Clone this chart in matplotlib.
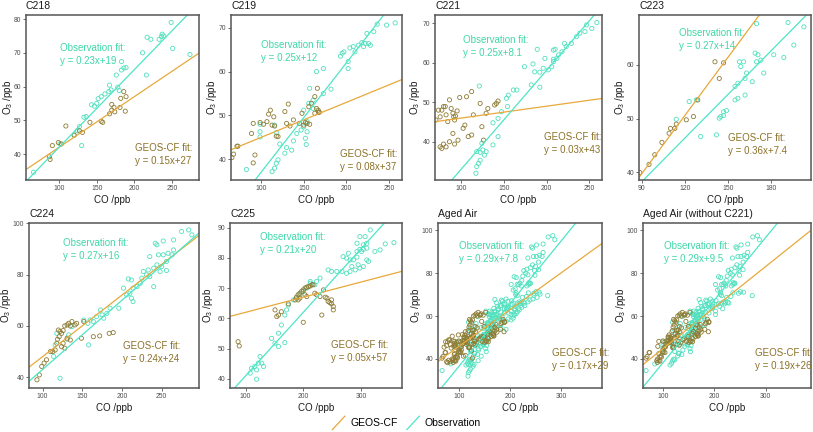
import numpy as np
import matplotlib
matplotlib.use("Agg")
import matplotlib.pyplot as plt
from matplotlib.lines import Line2D
from matplotlib.legend_handler import HandlerBase
from matplotlib.ticker import MultipleLocator

# ---- data: (CO ppb, O3 ppb) ----
c218_obs = np.array([
    (66, 34.6), (101, 43), (120, 45.6), (124, 46.9), (127, 48.1), (130, 42.5), (133, 50.9),
    (136, 51.1), (143, 54.6), (147, 54.2), (150, 55), (152, 56.4), (156, 57), (161, 57.8),
    (166, 58.5), (167, 60.4), (169, 59), (176, 63.4), (178, 59.8), (180, 58.8), (183, 67.4),
    (183, 64.9), (186, 65.5), (189, 65.6), (211, 70), (216, 63.4), (217, 74.6), (222, 74),
    (233, 74), (236, 74.8), (237, 75.5), (239, 75), (249, 79), (251, 71.3), (274, 69.5)])
c218_geos = np.array([
    (87, 39.2), (88, 38.4), (91, 42.5), (99, 43.4), (103, 43), (109, 48.3), (120, 45.6),
    (127, 46.9), (131, 46.4), (141, 49.4), (156, 49.7), (158, 49.4), (167, 51.9), (170, 53),
    (170, 54.7), (173, 53.8), (174, 52.5), (181, 53.8), (182, 56.5), (186, 58.5), (189, 57),
    (188, 52.7)])

c219_obs = np.array([
    (247, 70.6), (257, 71.1), (236, 70.8), (232, 69.1), (224, 68.7), (222, 66.4), (226, 66.4),
    (228, 66), (218, 66.6), (220, 65.7), (214, 66), (208, 65.7), (210, 64.5), (204, 65.4),
    (197, 64.5), (193, 63.5), (195, 64.2), (202, 62.3), (202, 60.7), (182, 56), (173, 60.7),
    (165, 60), (173, 55), (157, 56.2), (161, 53.5), (156, 52.8), (161, 51.6), (150, 51.2),
    (154, 48.6), (150, 47.4), (147, 46.7), (154, 46.3), (152, 44.8), (153, 43.4), (142, 45.9),
    (138, 44.2), (130, 42.7), (128, 41.4), (136, 42.1), (122, 43.5), (120, 39.9), (118, 39.1),
    (113, 37.2), (116, 38), (83, 37.7), (99, 48), (99, 45.1), (99, 46.3), (118, 46.1),
    (116, 47.8)])
c219_geos = np.array([
    (66, 40.4), (68, 41.2), (72, 43), (73, 43), (89, 45.9), (91, 48.2), (93, 41), (91, 39.2),
    (99, 48.4), (103, 48), (107, 48.6), (109, 50.3), (111, 51.2), (113, 47.8), (116, 47.6),
    (118, 45.3), (120, 45.2), (115, 49.7), (128, 50.9), (132, 52.6), (130, 48.2), (134, 47.6),
    (138, 49), (145, 48.2), (150, 47.8), (152, 48.4), (154, 48.2), (157, 48), (156, 52),
    (159, 52.8), (165, 51.6), (167, 51.2), (168, 50.8), (166, 56.2), (163, 54.3), (163, 50.5),
    (168, 50.7), (148, 50.5)])

c221_obs = np.array([
    (247, 69.6), (259, 70.2), (253, 68.7), (245, 67.9), (239, 67.5), (235, 66.6), (229, 64.9),
    (223, 64.1), (221, 64.9), (218, 62.8), (214, 62), (212, 61.1), (208, 60.3), (206, 59),
    (202, 58.2), (208, 60.9), (196, 58.6), (192, 57.6), (186, 57.7), (198, 61.1), (210, 63.4),
    (208, 63.2), (189, 63.4), (184, 59.7), (174, 59), (192, 53.8), (182, 54.4), (165, 53.1),
    (161, 53.1), (155, 51.8), (153, 51), (154, 48.9), (147, 47.6), (143, 45.9), (137, 44.8),
    (143, 41.3), (137, 39.2), (124, 39.6), (125, 37.9), (122, 37.3), (127, 36.6), (129, 37.5),
    (120, 34.5), (118, 33.7), (117, 32), (122, 35.3), (121, 54.1), (118, 37.5)])
c221_geos = np.array([
    (70, 45.5), (73, 48), (75, 46.3), (77, 48), (79, 48.9), (81, 48.9), (82, 46.8), (84, 45.1),
    (86, 50.6), (88, 48.4), (90, 47.2), (91, 46.3), (92, 45.5), (75, 38.7), (77, 38.3),
    (79, 39.4), (82, 38.7), (86, 40), (90, 42.1), (92, 39.4), (96, 40.4), (102, 43.4),
    (104, 44.2), (108, 41.3), (112, 41.7), (114, 46.8), (112, 52.7), (106, 51.4), (122, 49.7),
    (124, 43.8), (129, 47.2), (131, 48.4), (139, 49.3), (143, 50.3), (141, 49.7), (126, 40.4),
    (95, 47.8), (93, 46.5), (98, 51.2)])

c223_obs = np.array([
    (192, 67.9), (203, 67.1), (170, 67.7), (169, 62.2), (171, 61.9), (173, 60.9), (170, 60.6),
    (182, 61.9), (189, 61.4), (196, 63.7), (175, 58.5), (162, 57.5), (161, 60.6), (158, 60.6),
    (159, 59.7), (157, 56.6), (155, 56), (163, 58.5), (167, 56.9), (162, 54.4), (157, 53.8),
    (155, 53.5), (149, 51.5), (147, 51.3), (144, 50.1), (145, 50.4), (147, 50.6), (131, 46.7),
    (142, 47), (123, 53.2), (128, 53.5), (114, 49.9)])
c223_geos = np.array([
    (88.5, 40), (95, 41.5), (99, 43.3), (104, 45.6), (109, 47.3), (110, 48.2), (113, 48.2),
    (114, 49), (121, 49.8), (126, 50.4), (129, 53.5), (141, 60.6), (147, 60.4), (144, 57.5)])

c224_obs = np.array([
    (284, 97.4), (275, 96.8), (288, 95.5), (252, 93.1), (242, 92.2), (244, 91.6), (265, 93.5),
    (246, 87.7), (235, 87), (252, 87.7), (258, 88.3), (263, 87.7), (265, 89.6), (256, 85.1),
    (250, 83.1), (244, 83.8), (240, 82.5), (248, 81.2), (256, 81.6), (233, 81.8), (231, 79.9),
    (227, 81.2), (235, 79.2), (240, 75.3), (225, 78.6), (223, 76.6), (219, 75.3), (214, 74.7),
    (212, 77.9), (208, 78.3), (210, 72.7), (212, 70.8), (214, 69.5), (206, 72.1), (202, 74.7),
    (196, 66.9), (185, 66.9), (181, 64.9), (177, 63), (173, 66.2), (168, 63.6), (164, 61.7),
    (160, 62.3), (157, 61), (152, 62.3), (158, 52.6), (122, 39.6), (131, 54.8), (133, 56.5),
    (137, 59.7), (118, 57.1), (116, 52.6), (114, 48.1), (175, 64.3)])
c224_geos = np.array([
    (93, 39), (96, 40.9), (99, 44.2), (102, 45.5), (105, 46.8), (110, 50), (113, 50),
    (116, 50.6), (119, 54.8), (121, 55.8), (122, 57.8), (124, 57.1), (126, 58.2), (128, 60),
    (131, 60.4), (133, 61), (135, 60), (137, 61.7), (131, 55.2), (126, 53.2), (124, 51.9),
    (128, 51.3), (135, 54.5), (141, 60.4), (143, 61), (149, 55.2), (152, 61.7), (164, 55.8),
    (172, 56.1), (184, 57.1), (189, 57.4), (120, 58.4), (118, 53.2)])

c225_obs = np.array([
    (316, 89.2), (307, 87), (298, 87), (293, 84.8), (304, 84.3), (310, 84.8), (298, 82.8),
    (301, 82.1), (304, 82.8), (310, 83.2), (293, 82.1), (278, 81.5), (269, 80.4), (275, 79.9),
    (281, 79.3), (287, 79.3), (293, 80.2), (333, 82.6), (342, 84.6), (357, 85), (324, 82.1),
    (295, 77.7), (298, 76.6), (304, 77.1), (313, 78.8), (310, 79.3), (290, 76), (281, 75.5),
    (275, 74.9), (267, 75.5), (258, 75.5), (249, 75.5), (243, 76), (284, 77.1), (229, 73.3),
    (223, 72.2), (220, 71.1), (212, 71.6), (206, 70), (200, 68.9), (194, 67.8), (188, 66.7),
    (183, 66.1), (174, 64.4), (171, 62.8), (168, 61.1), (162, 57.8), (157, 55.1), (151, 51.8),
    (145, 53.4), (157, 50.7), (168, 52), (125, 47.4), (122, 45.2), (128, 45.2), (131, 44.1),
    (116, 44.1), (119, 43), (110, 43.5), (108, 41.9), (119, 39.9), (212, 72.2)])
c225_geos = np.array([
    (87, 52.3), (89, 50.9), (151, 62.8), (154, 60.6), (157, 61.1), (162, 62.2), (174, 64.8),
    (186, 66.1), (188, 67), (191, 67.8), (194, 68.3), (197, 68.9), (200, 69.4), (203, 70),
    (206, 70.3), (209, 70.5), (212, 70.7), (215, 71.1), (217, 71.1), (203, 67.8), (206, 67.2),
    (194, 66.7), (191, 66.1), (220, 68.3), (223, 67.8), (229, 67.2), (235, 69.4), (238, 67),
    (241, 66.7), (232, 61.1), (200, 58.7), (246, 65.2), (249, 64.8), (252, 63.9), (252, 62.8),
    (249, 66.1), (243, 65.6)])

# aged air panels pool the individual flights
aged_obs = np.vstack([c218_obs, c219_obs, c221_obs, c223_obs, c224_obs])
aged_geos = np.vstack([c218_geos, c219_geos, c221_geos, c223_geos, c224_geos])
aged_no221_obs = np.vstack([c218_obs, c219_obs, c223_obs, c224_obs])
aged_no221_geos = np.vstack([c218_geos, c219_geos, c223_geos, c224_geos])

titles = ["C218", "C219", "C221", "C223", "C224", "C225", "Aged Air", "Aged Air (without C221)"]
obs_sets = [c218_obs, c219_obs, c221_obs, c223_obs, c224_obs, c225_obs, aged_obs, aged_no221_obs]
geos_sets = [c218_geos, c219_geos, c221_geos, c223_geos, c224_geos, c225_geos, aged_geos,
             aged_no221_geos]
obs_slope = [0.23, 0.25, 0.25, 0.27, 0.27, 0.21, 0.29, 0.29]
obs_icpt = [19, 12, 8.1, 14, 16, 20, 7.8, 9.5]
geos_slope = [0.15, 0.08, 0.03, 0.36, 0.24, 0.05, 0.17, 0.19]
geos_icpt = [27, 37, 43, 7.4, 24, 57, 29, 26]

# ---- layout (pixels / axis limits / label positions) ----
W, H = 813, 432
layout = [
    # left, top, width, xlim, ylim, xstep, ystep, obs text, geos text, ylabel centre offset px
    (26, 15, 173, (56, 286), (32.3, 81.2), 50, 10, (0.197, 0.80), (0.63, 0.196), -18),
    (231, 15, 171, (65, 265), (35.3, 72.9), 50, 10, (0.175, 0.82), (0.637, 0.158), -19),
    (435, 15, 167, (69, 265), (30.3, 72.1), 50, 10, (0.17, 0.847), (0.65, 0.262), -20),
    (639, 15, 172, (88, 208), (38.6, 69.3), 30, 10, (0.23, 0.889), (0.52, 0.253), -19),
    (29, 223, 170, (83, 297), (35.8, 100.1), 50, 20, (0.20, 0.877), (0.55, 0.256), -23),
    (230, 223, 172, (73, 371), (37, 91.5), 100, 10, (0.174, 0.913), (0.59, 0.26), -22),
    (438, 223, 164, (58, 381), (26.5, 103.3), 100, 20, (0.13, 0.862), (0.693, 0.21), -22),
    (643, 223, 168, (60, 389), (26.5, 103.3), 100, 20, (0.125, 0.862), (0.667, 0.21), -22),
]
PANEL_H = 165
LINE_GAP = 13 / PANEL_H

GEOS_LINE = "#E7A93B"
GEOS_PT = "#8E7C35"
GEOS_TXT = "#8C7128"
OBS_LINE = "#4DE6C6"
OBS_PT = "#52E0BE"
OBS_TXT = "#3ED8A8"
FRAME = "#555555"

plt.rcParams["font.family"] = ["Liberation Sans", "DejaVu Sans"]
plt.rcParams["mathtext.fontset"] = "custom"
plt.rcParams["mathtext.rm"] = "Liberation Sans"
plt.rcParams["mathtext.it"] = "Liberation Sans:italic"


class DiagHandler(HandlerBase):
    # ggplot draws abline keys as a diagonal stroke
    def create_artists(self, legend, orig, xd, yd, w, h, fontsize, trans):
        ln = Line2D([-xd, -xd + w], [-yd - 1, -yd + h + 1], color=orig.get_color(),
                    lw=orig.get_linewidth())
        ln.set_transform(trans)
        return [ln]


fig = plt.figure(figsize=(W / 100, H / 100), dpi=100)

for i, name in enumerate(titles):
    left, top, width, xlim, ylim, xs, ys, otxt, gtxt, yoff = layout[i]
    ax = fig.add_axes([left / W, 1 - (top + PANEL_H) / H, width / W, PANEL_H / H])
    obs, geos = obs_sets[i], geos_sets[i]
    ax.scatter(obs[:, 0], obs[:, 1], s=9, facecolors="none", edgecolors=OBS_PT, linewidths=0.6)
    ax.scatter(geos[:, 0], geos[:, 1], s=9, facecolors="none", edgecolors=GEOS_PT, linewidths=0.6)
    ax.axline((0, geos_icpt[i]), slope=geos_slope[i], color=GEOS_LINE, lw=0.9)
    ax.axline((0, obs_icpt[i]), slope=obs_slope[i], color=OBS_LINE, lw=0.9)
    ax.set_xlim(*xlim); ax.set_ylim(*ylim)
    ax.xaxis.set_major_locator(MultipleLocator(xs))
    ax.yaxis.set_major_locator(MultipleLocator(ys))
    for sp in ax.spines.values():
        sp.set_color(FRAME); sp.set_linewidth(1.1)
    ax.tick_params(length=2, width=0.6, color=FRAME, labelcolor="#4D4D4D", labelsize=4.9, pad=1.5)
    ax.set_title(name, loc="left", fontsize=7.5, pad=4, color="#1a1a1a")
    ax.set_xlabel("CO /ppb", fontsize=7, labelpad=2, color="#1a1a1a")
    ax.set_ylabel("O$_3$ /ppb", fontsize=7, color="#1a1a1a", va="center")
    ax.yaxis.set_label_coords(yoff / width, 0.5)

    ax.text(otxt[0], otxt[1], "Observation fit:", transform=ax.transAxes, color=OBS_TXT,
            fontsize=7, va="center", ha="left")
    ax.text(otxt[0], otxt[1] - LINE_GAP, f"y = {obs_slope[i]:g}x+{obs_icpt[i]:g}",
            transform=ax.transAxes, color=OBS_TXT, fontsize=7, va="center", ha="left")
    ax.text(gtxt[0], gtxt[1], "GEOS-CF fit:", transform=ax.transAxes, color=GEOS_TXT,
            fontsize=7, va="center", ha="left")
    ax.text(gtxt[0], gtxt[1] - LINE_GAP, f"y = {geos_slope[i]:g}x+{geos_icpt[i]:g}",
            transform=ax.transAxes, color=GEOS_TXT, fontsize=7, va="center", ha="left")

handles = [Line2D([], [], color=GEOS_LINE, lw=0.9), Line2D([], [], color=OBS_LINE, lw=0.9)]
fig.legend(handles, ["GEOS-CF", "Observation"], loc="center", bbox_to_anchor=(0.5, 1 - 423 / H),
           ncol=2, frameon=False, handler_map={Line2D: DiagHandler()}, fontsize=7.5,
           handlelength=1.2, handleheight=1.2, columnspacing=0.9, handletextpad=0.5)

fig.savefig("out.png", dpi=100, facecolor="white")
